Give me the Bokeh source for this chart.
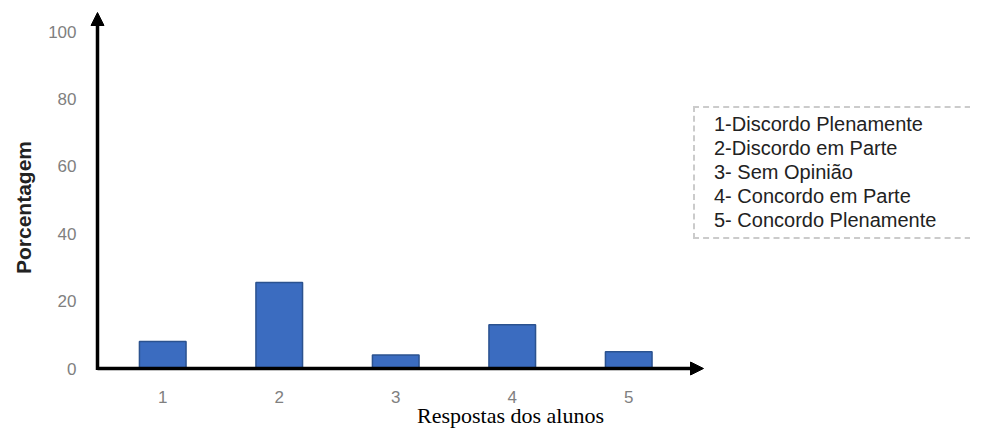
import math
from bokeh.plotting import figure
from bokeh.models import Range1d, FixedTicker, Arrow, NormalHead, Label, Legend, LegendItem
from bokeh.embed import file_html
from bokeh.resources import INLINE

# ---- data ----
categories = [1, 2, 3, 4, 5]
percentages = [8, 25.5, 4, 13, 5]
y_ticks = [0, 20, 40, 60, 80, 100]
legend_labels = [
    "1-Discordo Plenamente",
    "2-Discordo em Parte",
    "3- Sem Opinião",
    "4- Concordo em Parte",
    "5- Concordo Plenamente",
]
x_title = "Respostas dos alunos"
y_title = "Porcentagem"

# ---- layout (frame covers the whole canvas) ----
W, H = 970, 428
AX_X, AX_Y = 97, 368            # canvas px of the axis origin
PX_X, PX_Y = 116.5, 3.37        # px per data unit
X_AT_AXIS = 0.44
X0 = X_AT_AXIS - AX_X / PX_X
X1 = X0 + W / PX_X
Y1 = AX_Y / PX_Y
Y0 = Y1 - H / PX_Y


def dx(px):
    return X0 + px / PX_X


def dy(py):
    return Y1 - py / PX_Y


p = figure(width=W, height=H, x_range=Range1d(X0, X1), y_range=Range1d(Y0, Y1),
           min_border=0, output_backend="svg", toolbar_location=None)
p.grid.visible = False
p.outline_line_color = None

p.vbar(x=categories, top=percentages, width=0.4, fill_color="#3B6CC0",
       line_color="#2B528F", line_width=1.5)

for ax in (p.xaxis[0], p.yaxis[0]):
    ax.axis_line_color = None
    ax.major_tick_line_color = None
    ax.minor_tick_line_color = None
    ax.major_label_text_color = "#808080"
    ax.major_label_text_font = "Liberation Sans"
    ax.major_label_text_font_size = "17px"
p.xaxis.ticker = FixedTicker(ticks=categories)
p.yaxis.ticker = FixedTicker(ticks=y_ticks)
p.xaxis.fixed_location = 0
p.yaxis.fixed_location = X_AT_AXIS
p.xaxis.major_label_standoff = 16
p.yaxis.major_label_standoff = 15

# axis arrows
p.add_layout(Arrow(x_start=X_AT_AXIS, y_start=0, x_end=dx(703), y_end=0, line_width=3.5,
                   line_color="black",
                   end=NormalHead(size=13, fill_color="black", line_color="black")))
p.add_layout(Arrow(x_start=X_AT_AXIS, y_start=dy(AX_Y + 1.5), x_end=X_AT_AXIS, y_end=dy(12),
                   line_width=3.5, line_color="black",
                   end=NormalHead(size=13, fill_color="black", line_color="black")))

# axis titles
p.add_layout(Label(x=dx(23), y=dy(207), text=y_title, angle=math.pi / 2,
                   text_align="center", text_baseline="middle",
                   text_font="Liberation Sans", text_font_size="21px",
                   text_font_style="bold", text_color="#222222"))
p.add_layout(Label(x=dx(510), y=dy(415), text=x_title, text_align="center",
                   text_baseline="middle", text_font="Liberation Serif",
                   text_font_size="22px", text_color="black"))

# legend (text only)
dummy = p.scatter(x=[], y=[], alpha=0)
legend = Legend(items=[LegendItem(label=l, renderers=[dummy]) for l in legend_labels],
                location=(693, H - 239), glyph_width=0, glyph_height=20, label_height=20,
                label_width=290, spacing=1, padding=5, label_standoff=14, margin=0,
                border_line_color="#999999", border_line_dash="dotted",
                border_line_width=2, background_fill_color="white",
                label_text_font="Liberation Sans", label_text_font_size="20px",
                label_text_color="#222222")
p.add_layout(legend, "center")

open("out.html", "w").write(file_html(p, INLINE))
